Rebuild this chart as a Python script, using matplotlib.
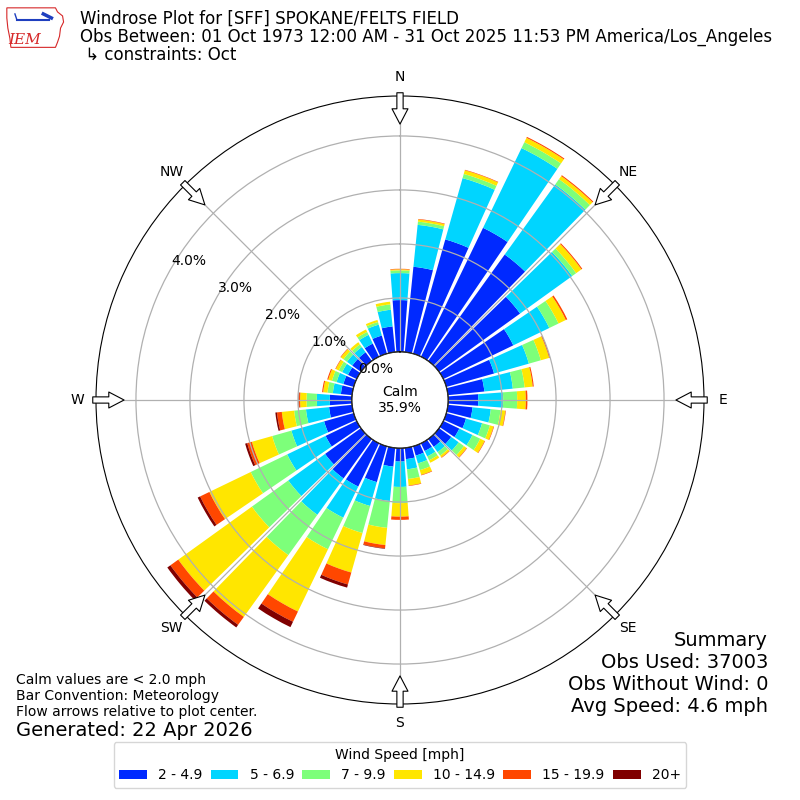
import numpy as np
import matplotlib
matplotlib.use("Agg")
import matplotlib.pyplot as plt
from matplotlib.patches import Polygon

# wind directions (deg, meteorological) and speed classes
directions = np.arange(0, 360, 10)
speed_bins = ["2 - 4.9", "5 - 6.9", "7 - 9.9", "10 - 14.9", "15 - 19.9", "20+"]
colors = plt.cm.jet(np.linspace(0, 1, 7)[1:])

# frequency (%) per direction for each speed class
pct_2_5 = [0.96, 1.59, 2.20, 2.65, 2.43, 1.85, 1.44, 0.92, 0.68, 0.56, 0.46, 0.38,
           0.33, 0.28, 0.18, 0.16, 0.18, 0.21, 0.25, 0.35, 0.69, 0.89, 0.90, 0.82,
           0.64, 0.57, 0.43, 0.41, 0.21, 0.20, 0.18, 0.20, 0.20, 0.27, 0.35, 0.48]
pct_5_7 = [0.50, 0.78, 1.18, 1.64, 1.60, 1.19, 0.74, 0.67, 0.53, 0.46, 0.34, 0.31,
           0.27, 0.17, 0.12, 0.11, 0.15, 0.19, 0.47, 0.64, 0.46, 0.64, 0.83, 0.84,
           0.79, 0.63, 0.43, 0.24, 0.15, 0.13, 0.12, 0.12, 0.12, 0.18, 0.21, 0.31]
pct_7_10 = [0.05, 0.06, 0.08, 0.12, 0.12, 0.09, 0.19, 0.23, 0.22, 0.26, 0.18, 0.15,
            0.16, 0.12, 0.08, 0.08, 0.13, 0.18, 0.30, 0.50, 0.52, 0.65, 0.92, 0.83,
            0.75, 0.37, 0.22, 0.19, 0.10, 0.09, 0.07, 0.08, 0.06, 0.06, 0.05, 0.10]
pct_10_15 = [0.02, 0.04, 0.07, 0.09, 0.07, 0.12, 0.15, 0.16, 0.15, 0.16, 0.09, 0.07,
             0.09, 0.06, 0.04, 0.05, 0.09, 0.12, 0.25, 0.32, 0.76, 1.28, 1.41, 1.68,
             0.85, 0.39, 0.23, 0.12, 0.08, 0.07, 0.06, 0.06, 0.05, 0.05, 0.04, 0.05]
pct_15_20 = [0.01, 0.01, 0.01, 0.02, 0.02, 0.02, 0.03, 0.02, 0.02, 0.03, 0.01, 0.01,
             0.01, 0.01, 0.01, 0.00, 0.01, 0.01, 0.06, 0.06, 0.23, 0.21, 0.18, 0.18,
             0.19, 0.09, 0.09, 0.02, 0.02, 0.02, 0.01, 0.01, 0.00, 0.00, 0.00, 0.00]
pct_20_up = [0.00, 0.00, 0.00, 0.00, 0.00, 0.00, 0.00, 0.00, 0.00, 0.00, 0.00, 0.00,
             0.00, 0.00, 0.00, 0.00, 0.00, 0.00, 0.00, 0.01, 0.06, 0.11, 0.06, 0.07,
             0.05, 0.04, 0.03, 0.01, 0.00, 0.00, 0.00, 0.00, 0.00, 0.00, 0.00, 0.00]
calm_pct = 35.9
ring_values = [0, 1, 2, 3, 4]
compass = ["N", "NE", "E", "SE", "S", "SW", "W", "NW"]

title_lines = [
    "Windrose Plot for [SFF] SPOKANE/FELTS FIELD",
    "Obs Between: 01 Oct 1973 12:00 AM - 31 Oct 2025 11:53 PM America/Los_Angeles",
    " \u21b3 constraints: Oct",
]
note_lines = [
    "Calm values are < 2.0 mph",
    "Bar Convention: Meteorology",
    "Flow arrows relative to plot center.",
]
summary_lines = ["Summary", "Obs Used: 37003", "Obs Without Wind: 0", "Avg Speed: 4.6 mph"]

fig = plt.figure(figsize=(8, 8), dpi=100)
ax = fig.add_axes([0.12, 0.12, 0.76, 0.76], projection="polar")
ax.set_theta_zero_location("N")
ax.set_theta_direction(-1)
ax.set_rorigin(-0.89)
ax.set_ylim(0, 4.74)

theta = np.deg2rad(directions)
width = np.deg2rad(8.5)
bottom = np.zeros(len(directions))
for vals, lab, col in zip([pct_2_5, pct_5_7, pct_7_10, pct_10_15, pct_15_20, pct_20_up],
                          speed_bins, colors):
    ax.bar(theta, vals, width=width, bottom=bottom, color=col, label=lab,
           linewidth=0, zorder=1)
    bottom = bottom + np.array(vals)

ax.set_axisbelow(False)
ax.grid(True, color="#b0b0b0", linewidth=0.9)
ax.set_rgrids(ring_values, labels=["%.1f%%" % v for v in ring_values], angle=300)
ax.set_thetagrids(range(0, 360, 45), compass)
ax.tick_params(axis="x", pad=3, labelsize=10)
ax.tick_params(axis="y", labelsize=10)

# calm circle
tt = np.linspace(0, 2 * np.pi, 300)
ax.plot(tt, np.zeros_like(tt), color="black", linewidth=1, zorder=3)
ax.text(0.5, 0.5, "Calm\n%.1f%%" % calm_pct, transform=ax.transAxes,
        ha="center", va="center", fontsize=10)

# flow arrows at the rim
for ang in range(0, 360, 45):
    ax.annotate("", xy=(np.deg2rad(ang), 4.22), xytext=(np.deg2rad(ang), 4.80),
                annotation_clip=False,
                arrowprops=dict(arrowstyle="simple,head_length=1.1,head_width=1.15,tail_width=0.45",
                                fc="white", ec="black", lw=0.8, shrinkA=0, shrinkB=0,
                                mutation_scale=10))

# header
for i, line in enumerate(title_lines):
    fig.text(0.1, 1 - (19 + 18 * i) / 800, line, fontsize=12, va="center", ha="left")

# IEM logo (rough)
lax = fig.add_axes([0.006, 0.937, 0.076, 0.057])
lax.set_xlim(0, 60)
lax.set_ylim(0, 45)
lax.axis("off")
lax.add_patch(Polygon([[2, 42], [50, 42], [52, 38], [57, 34], [58, 28], [55, 22],
                       [54, 14], [52, 8], [50, 3], [6, 3], [5, 12], [3, 22], [2, 32]],
                      closed=True, fill=False, ec="#d62728", lw=0.8))
lax.plot([12, 44], [30, 30], color="#1f3fbf", lw=1.5)
lax.plot([38, 46], [36, 32], color="#1f3fbf", lw=2.5)
lax.plot([10, 12], [36, 30], color="#1f3fbf", lw=1)
lax.text(20, 10, "IEM", color="#d62728", fontsize=11, family="serif",
         style="italic", ha="center", va="center")

# notes bottom left
for i, line in enumerate(note_lines):
    fig.text(0.02, 1 - (680 + 16 * i) / 800, line, fontsize=10, va="center")
fig.text(0.02, 1 - 730 / 800, "Generated: 22 Apr 2026", fontsize=14, va="center")

# summary bottom right
for i, line in enumerate(summary_lines):
    fig.text(0.96, 1 - (640 + 22 * i) / 800, line, fontsize=14, va="center", ha="right")

handles, labels = ax.get_legend_handles_labels()
fig.legend(handles, labels, loc="center", bbox_to_anchor=(0.5, 1 - 765 / 800), ncol=6,
           title="Wind Speed [mph]", fontsize=10, title_fontsize=10,
           columnspacing=0.6, handletextpad=0.8)

fig.savefig("out.png", dpi=100)
